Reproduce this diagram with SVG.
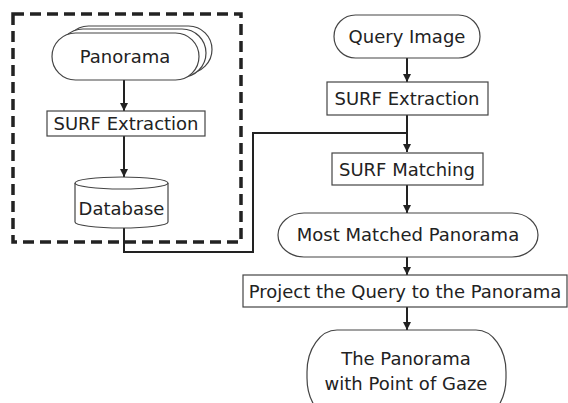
<svg xmlns="http://www.w3.org/2000/svg" width="568" height="403" viewBox="0 0 568 403">
<defs>
<style>
.box{fill:#fff;stroke:#444;stroke-width:1.2}
.t{font-family:"DejaVu Sans",sans-serif;font-size:18px;fill:#222;text-anchor:middle}
.c{fill:none;stroke:#222;stroke-width:2}
.dash{fill:none;stroke:#222;stroke-width:3.5;stroke-dasharray:11,6}
</style>
<marker id="ah" viewBox="0 0 10 10" refX="10" refY="5" markerWidth="8" markerHeight="8" markerUnits="userSpaceOnUse" orient="auto">
<path d="M0,0 L10,5 L0,10 Z" fill="#222"/>
</marker>
</defs>
<rect id="group-box" class="dash" x="13" y="14" width="228" height="228"/>
<g id="connectors">
<line class="c" x1="124" y1="80" x2="124" y2="111" marker-end="url(#ah)"/>
<line class="c" x1="124" y1="136" x2="124" y2="177" marker-end="url(#ah)"/>
<line class="c" x1="407" y1="58" x2="407" y2="82" marker-end="url(#ah)"/>
<line class="c" x1="407" y1="115" x2="407" y2="152" marker-end="url(#ah)"/>
<polyline class="c" points="124,228 124,252 253,252 253,133 407,133"/>
<line class="c" x1="407" y1="185" x2="407" y2="213" marker-end="url(#ah)"/>
<line class="c" x1="407" y1="257" x2="407" y2="275" marker-end="url(#ah)"/>
<line class="c" x1="407" y1="307" x2="407" y2="330" marker-end="url(#ah)"/>
</g>
<g id="panorama">
<rect class="box" x="65" y="26" width="147" height="47" rx="23.5"/>
<rect class="box" x="59" y="29" width="147" height="48" rx="24"/>
<rect class="box" x="52" y="33" width="147" height="47" rx="23.5"/>
<text class="t" x="125" y="63">Panorama</text>
</g>
<g id="surf-extraction-left">
<rect class="box" x="47" y="111" width="158" height="25"/>
<text class="t" x="126" y="130">SURF Extraction</text>
</g>
<g id="database">
<path class="box" d="M75,183 L75,222 A46.5,6 0 0 0 168,222 L168,183"/>
<ellipse class="box" cx="121.5" cy="183" rx="46.5" ry="6"/>
<text class="t" x="121.5" y="215">Database</text>
</g>
<g id="query-image">
<rect class="box" x="334" y="15" width="146" height="43" rx="21.5"/>
<text class="t" x="407" y="43">Query Image</text>
</g>
<g id="surf-extraction-right">
<rect class="box" x="327" y="82" width="161" height="33"/>
<text class="t" x="407" y="105">SURF Extraction</text>
</g>
<g id="surf-matching">
<rect class="box" x="332" y="153" width="151" height="32"/>
<text class="t" x="407" y="176">SURF Matching</text>
</g>
<g id="most-matched">
<rect class="box" x="278" y="213" width="260" height="44" rx="26" ry="22"/>
<text class="t" x="408" y="241">Most Matched Panorama</text>
</g>
<g id="project">
<rect class="box" x="243" y="275" width="324" height="32"/>
<text class="t" x="405" y="298">Project the Query to the Panorama</text>
</g>
<g id="final">
<rect class="box" x="307" y="330" width="199" height="90" rx="30" ry="42"/>
<text class="t" x="406" y="365">The Panorama</text>
<text class="t" x="406" y="390">with Point of Gaze</text>
</g>
</svg>
